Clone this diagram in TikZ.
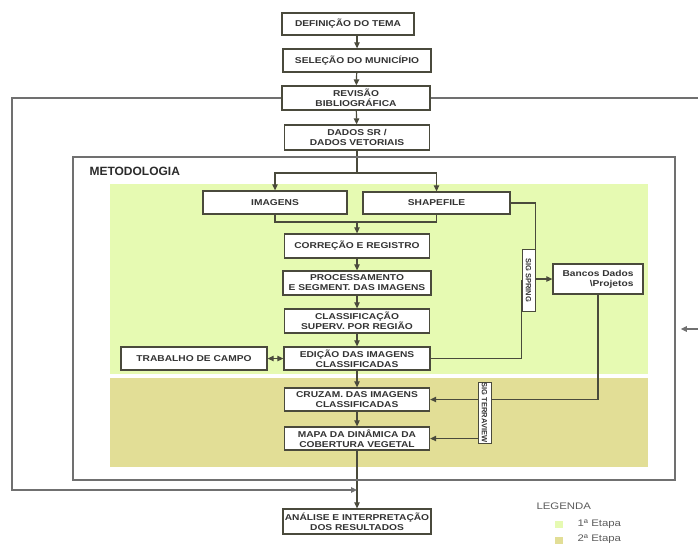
\documentclass[tikz,border=0pt]{standalone}
\usepackage{fontspec}
\setmainfont{Liberation Sans}
\newfontfamily\bx[FakeStretch=1.2]{Liberation Sans}
\usetikzlibrary{arrows.meta,calc,backgrounds}
\definecolor{gone}{HTML}{E6FAB2}
\definecolor{gtwo}{HTML}{E2DE96}
\definecolor{lncol}{HTML}{4A4A3C}
\definecolor{frcol}{HTML}{707070}
\definecolor{txcol}{HTML}{333333}
\begin{document}
\begin{tikzpicture}[x=1pt,y=-1pt,
  box/.style={draw=lncol, line width=1.3pt, fill=white, inner xsep=1pt, inner ysep=0pt, align=center,
    font=\bx\bfseries\fontsize{8.5}{10}\selectfont, text=txcol},
  arr/.style={-{Triangle[length=6pt,width=5.5pt]}, draw=lncol, line width=1.2pt},
  dblarr/.style={{Triangle[length=6pt,width=5.5pt]}-{Triangle[length=6pt,width=5.5pt]}, draw=lncol, line width=1.2pt},
  ln/.style={draw=lncol, line width=1.2pt},
  frln/.style={draw=frcol, line width=1.4pt},
  frarr/.style={-{Triangle[length=6pt,width=5.5pt]}, draw=frcol, line width=1.4pt},
  lab/.style={draw=lncol, line width=1pt, fill=white, rotate=-90, inner sep=0.5pt,
    font=\bfseries\fontsize{7.5}{8}\selectfont, text=txcol},
  legtxt/.style={anchor=west, font=\bx\fontsize{9.5}{11}\selectfont, text=txcol!80!white},
]
\useasboundingbox (0,0) rectangle (698,544);

% methodology frame
\node[draw=frcol, line width=1.5pt, minimum width=602pt, minimum height=323pt, inner sep=0pt] (metod) at (374,318.5) {};
\node[anchor=west, font=\bfseries\fontsize{12}{14}\selectfont, text=txcol!85!black] (metlab) at (86,171) {METODOLOGIA};

% top column
\node[box, minimum width=132pt, minimum height=22pt] (def) at (348,24) {DEFINIÇÃO DO TEMA};
\node[box, minimum width=148pt, minimum height=23pt] (sel) at (357,60.5) {SELEÇÃO DO MUNICÍPIO};
\node[box, minimum width=148pt, minimum height=24pt] (rev) at (356,98) {REVISÃO\\BIBLIOGRÁFICA};
\node[box, minimum width=145pt, minimum height=25pt] (dados) at (357,137.5) {DADOS SR /\\DADOS VETORIAIS};

% methodology boxes
\node[box, minimum width=144pt, minimum height=23pt] (img) at (275,202.5) {IMAGENS};
\node[box, minimum width=147pt, minimum height=22pt] (shp) at (436.5,203) {SHAPEFILE};
\node[box, minimum width=145pt, minimum height=24pt] (cor) at (357,246) {CORREÇÃO E REGISTRO};
\node[box, minimum width=148pt, minimum height=24pt] (proc) at (357,283) {PROCESSAMENTO\\E SEGMENT. DAS IMAGENS};
\node[box, minimum width=145pt, minimum height=24pt] (cls) at (357,321) {CLASSIFICAÇÃO\\SUPERV. POR REGIÃO};
\node[box, minimum width=146pt, minimum height=23pt] (edi) at (357,358.5) {EDIÇÃO DAS IMAGENS\\CLASSIFICADAS};
\node[box, minimum width=146pt, minimum height=23pt] (trab) at (194,358.5) {TRABALHO DE CAMPO};
\node[box, minimum width=145pt, minimum height=23pt] (cruz) at (357,399.5) {CRUZAM. DAS IMAGENS\\CLASSIFICADAS};
\node[box, minimum width=145pt, minimum height=23pt] (mapa) at (357,438.5) {MAPA DA DINÂMICA DA\\COBERTURA VEGETAL};
\node[box, minimum width=148pt, minimum height=25pt] (ana) at (357,521.5) {ANÁLISE E INTERPRETAÇÃO\\DOS RESULTADOS};

\node[lab, minimum width=62pt, minimum height=13pt] (spring) at (528.5,280) {SIG SPRING};
\node[box, align=right, minimum width=90pt, minimum height=30pt] (bancos) at (598,279) {Bancos Dados\\\textbackslash Projetos};
\node[lab, minimum width=61pt, minimum height=13pt] (terra) at (484.5,412.5) {SIG TERRAVIEW};

\begin{scope}[on background layer]
% background stages
\fill[gone] (110,184) rectangle (648,374);
\fill[gtwo] (110,378) rectangle (648,467);

% connectors top
\draw[arr] (def.south -| sel) -- (sel.north);
\draw[arr] (sel) -- (rev);
\draw[arr] (rev) -- (dados);
\coordinate (split) at (357,173);
\draw[ln] (dados.south) -- (split);
\draw[arr] (split) -| (img.north);
\draw[arr] (split) -| (shp.north);
\coordinate (merge) at (357,222);
\draw[ln] (img.south) |- (merge);
\draw[ln] (shp.south) |- (merge);
\draw[arr] (merge) -- (cor.north);
\draw[arr] (cor) -- (proc);
\draw[arr] (proc) -- (cls);
\draw[arr] (cls) -- (edi);
\draw[arr] (edi) -- (cruz);
\draw[arr] (cruz) -- (mapa);
\draw[arr] (mapa) -- (ana);
\draw[dblarr] (edi.west) -- (trab.east);

% SIG connectors
\draw[ln] (shp.east) -| (spring.north);
\draw[ln] (edi.east) -| (spring.south);
\draw[arr] (spring.east |- bancos.west) -- (bancos.west);
\draw[arr] (bancos.south) |- (terra.east |- cruz);
\draw[arr] (terra.west |- cruz) -- (cruz.east);
\draw[arr] (terra.west |- mapa) -- (mapa.east);

% outer loop
\coordinate (lp) at (12,490);
\coordinate (jn) at (357,490);
\draw[frarr] (rev.west) -| (lp) -- (jn);
\coordinate (rt) at (698,98);
\draw[frln] (rev.east) -- (rt);
\coordinate (rb) at (698,329);
\draw[frarr, shorten >=5pt] (rb) -- (metod.east |- rb);
\end{scope}

% legend
\node[legtxt] (leg) at (533,506) {LEGENDA};
\node[fill=gone, minimum width=8pt, minimum height=7pt, inner sep=0pt] (sq1) at (559,524) {};
\node[legtxt] (l1) at (574,524) {1ª Etapa};
\node[fill=gtwo, minimum width=8pt, minimum height=7pt, inner sep=0pt] (sq2) at (559,540) {};
\node[legtxt] (l2) at (574,539.5) {2ª Etapa};
\end{tikzpicture}
\end{document}
